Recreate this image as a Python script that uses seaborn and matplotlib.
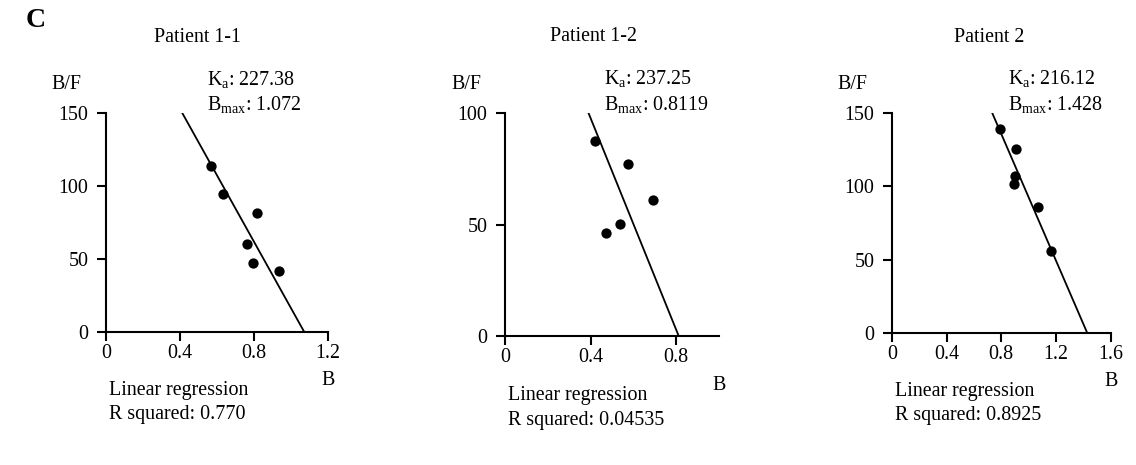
import numpy as np
import pandas as pd
import matplotlib
matplotlib.use("Agg")
import matplotlib.pyplot as plt
import seaborn as sns

# Scatchard data (B, B/F per patient)
patients = ["Patient 1-1", "Patient 1-2", "Patient 2"]
b_p11 = [0.567, 0.635, 0.815, 0.761, 0.793, 0.937]
bf_p11 = [113.7, 94.6, 81.6, 60.0, 47.4, 41.9]
b_p12 = [0.421, 0.575, 0.694, 0.536, 0.474]
bf_p12 = [87.3, 77.2, 60.9, 50.2, 46.2]
b_p2 = [0.789, 0.908, 0.901, 0.894, 1.069, 1.164]
bf_p2 = [139.3, 125.2, 106.8, 101.6, 86.1, 55.7]

ka_vals = [227.38, 237.25, 216.12]
bmax_vals = [1.072, 0.8119, 1.428]
ka_labels = ["227.38", "237.25", "216.12"]
bmax_labels = ["1.072", "0.8119", "1.428"]
r2_labels = ["0.770", "0.04535", "0.8925"]

x_ticks = [[0, 0.4, 0.8, 1.2], [0, 0.4, 0.8], [0, 0.4, 0.8, 1.2, 1.6]]
x_tick_labels = [["0", "0.4", "0.8", "1.2"], ["0", "0.4", "0.8"],
                 ["0", "0.4", "0.8", "1.2", "1.6"]]
x_max = [1.2, 1.0, 1.6]
y_ticks = [[0, 50, 100, 150], [0, 50, 100], [0, 50, 100, 150]]
y_max = [150, 100, 150]

sns.set_style("ticks")
plt.rcParams["font.family"] = ["Liberation Serif", "DejaVu Serif"]
plt.rcParams["mathtext.fontset"] = "custom"
plt.rcParams["mathtext.rm"] = "Liberation Serif"
plt.rcParams["mathtext.it"] = "Liberation Serif:italic"
plt.rcParams["text.color"] = "black"
plt.rcParams["axes.labelcolor"] = "black"

FS = 14.4

fig = plt.figure(figsize=(11.36, 4.65), dpi=100)

# axes boxes in figure fractions
boxes = [[0.0933, 0.286, 0.1954, 0.471],
         [0.4445, 0.2774, 0.1884, 0.4796],
         [0.785, 0.284, 0.1928, 0.473]]
title_x = [0.414, 0.414, 0.443]
ka_x = [0.455, 0.463, 0.53]

data = [(b_p11, bf_p11), (b_p12, bf_p12), (b_p2, bf_p2)]

for i in range(3):
    ax = fig.add_axes(boxes[i])
    b, bf = data[i]
    df = pd.DataFrame({"B": b, "BF": bf})
    sns.scatterplot(data=df, x="B", y="BF", ax=ax, color="black", s=55,
                    edgecolor="black", linewidth=0, zorder=3)

    # regression line from Ka and Bmax: B/F = Ka * (Bmax - B)
    ka, bmax = ka_vals[i], bmax_vals[i]
    x_start = bmax - y_max[i] / ka
    line_x = np.linspace(x_start, bmax, 50)
    line_df = pd.DataFrame({"B": line_x, "BF": ka * (bmax - line_x)})
    sns.lineplot(data=line_df, x="B", y="BF", ax=ax, color="black",
                 linewidth=1.3, zorder=2)

    ax.set_xlim(0, x_max[i])
    ax.set_ylim(0, y_max[i])
    ax.set_xticks(x_ticks[i])
    ax.set_xticklabels(x_tick_labels[i])
    ax.set_yticks(y_ticks[i])
    ax.set_xlabel("")
    ax.set_ylabel("")
    sns.despine(ax=ax)
    for s in ["left", "bottom"]:
        ax.spines[s].set_linewidth(1.5)
        ax.spines[s].set_color("black")
    ax.tick_params(axis="both", direction="out", length=6.5, width=1.5,
                   colors="black", labelsize=FS)
    ax.tick_params(axis="y", pad=6)
    ax.tick_params(axis="x", pad=2)

    ax.text(title_x[i], 1.345, patients[i], transform=ax.transAxes,
            ha="center", va="center", fontsize=FS)
    ax.text(-0.18, 1.13, "B/F", transform=ax.transAxes,
            ha="center", va="center", fontsize=FS)
    ax.text(ka_x[i], 1.155, r"K$_\mathrm{a}$: " + ka_labels[i],
            transform=ax.transAxes, ha="left", va="center", fontsize=FS)
    ax.text(ka_x[i], 1.04, r"B$_\mathrm{max}$: " + bmax_labels[i],
            transform=ax.transAxes, ha="left", va="center", fontsize=FS)
    ax.text(1.0, -0.22, "B", transform=ax.transAxes,
            ha="center", va="center", fontsize=FS)
    ax.text(0.015, -0.267, "Linear regression", transform=ax.transAxes,
            ha="left", va="center", fontsize=FS)
    ax.text(0.015, -0.377, "R squared: " + r2_labels[i],
            transform=ax.transAxes, ha="left", va="center", fontsize=FS)

fig.text(0.031, 0.955, "C", ha="center", va="center", fontsize=20,
         fontweight="bold")

fig.savefig("out.png", dpi=100)
